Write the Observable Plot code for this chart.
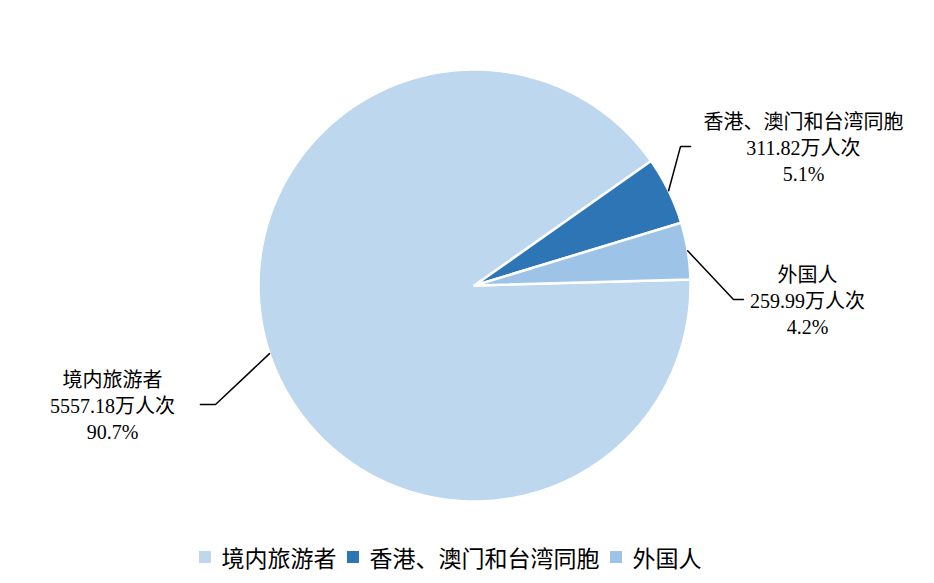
<!DOCTYPE html>
<html>
<head>
<meta charset="utf-8">
<script src="https://cdn.jsdelivr.net/npm/d3@7"></script>
<script src="https://cdn.jsdelivr.net/npm/@observablehq/plot@0.6"></script>
<style>
  html, body { margin: 0; padding: 0; background: #fff; }
  #chart { width: 934px; }
  #legend { display: flex; justify-content: center; width: 906px; padding-left: 2px; padding-right: 26px; }
  #legend, #legend * { font-family: "Liberation Serif", "Times New Roman", "Noto Sans CJK SC", serif !important; }
  #legend span { margin-right: 10px !important; }
  #legend span svg { margin-right: 11px !important; }
  #chart text { font-family: "Liberation Serif", "Times New Roman", "Noto Sans CJK SC", serif; }
</style>
</head>
<body>
<div id="chart"></div>
<div id="legend"></div>
<script>
// ---- data ----
const categories = ["境内旅游者", "香港、澳门和台湾同胞", "外国人"];
const visitors = [5557.18, 311.82, 259.99]; // 万人次
const shares = ["90.7%", "5.1%", "4.2%"];
const colors = ["#BDD7EE", "#2E75B6", "#9DC3E6"];

// ---- layout (radius units, pie radius = 1) ----
const W = 934, H = 540, R = 216, CX = 474, CY = 285;
const startDeg = 88.4;
// leader elbow / end points and label centres, in radius units
const leaderLayout = [
  {elbow: [-1.199, -0.551], end: [-1.269, -0.551], label: [-1.676, -0.551]},
  {elbow: [0.954, 0.644], end: [1.0, 0.644], label: [1.523, 0.644]},
  {elbow: [1.199, -0.065], end: [1.245, -0.065], label: [1.542, -0.065]}
];

const font = "Liberation Serif, Times New Roman, Noto Sans CJK SC, serif";

const data = categories.map((name, i) => ({name, value: visitors[i], share: shares[i]}));
const arcs = d3.pie().value(d => d.value).sort(null)
  .startAngle(startDeg * Math.PI / 180)
  .endAngle(startDeg * Math.PI / 180 + 2 * Math.PI)(data);

// polygon outline of each slice (compass angles: 0 = up, clockwise)
const pt = (a, r) => [r * Math.sin(a), r * Math.cos(a)];
const slicePts = [];
arcs.forEach(a => {
  slicePts.push({name: a.data.name, x: 0, y: 0});
  const n = Math.max(2, Math.ceil((a.endAngle - a.startAngle) / (Math.PI / 360)));
  for (let k = 0; k <= n; k++) {
    const ang = a.startAngle + (a.endAngle - a.startAngle) * k / n;
    const [x, y] = pt(ang, 1);
    slicePts.push({name: a.data.name, x, y});
  }
  slicePts.push({name: a.data.name, x: 0, y: 0});
});

const leaderPts = [];
const labels = [];
arcs.forEach((a, i) => {
  const mid = (a.startAngle + a.endAngle) / 2;
  const [sx, sy] = pt(mid, 1);
  const L = leaderLayout[i];
  leaderPts.push({name: a.data.name, x: sx, y: sy});
  leaderPts.push({name: a.data.name, x: L.elbow[0], y: L.elbow[1]});
  leaderPts.push({name: a.data.name, x: L.end[0], y: L.end[1]});
  labels.push({x: L.label[0], y: L.label[1],
    text: `${a.data.name}\n${a.data.value.toFixed(2)}万人次\n${a.data.share}`});
});

const chart = Plot.plot({
  width: W, height: H,
  margin: 0,
  x: {domain: [-CX / R, (W - CX) / R], range: [0, W], axis: null},
  y: {domain: [-(H - CY) / R, CY / R], range: [H, 0], axis: null},
  color: {domain: categories, range: colors},
  style: {fontFamily: font, background: "#fff"},
  marks: [
    Plot.line(slicePts, {x: "x", y: "y", z: "name", fill: "name", stroke: "#fff", strokeWidth: 2.5, strokeLinejoin: "round"}),
    Plot.line(leaderPts, {x: "x", y: "y", z: "name", stroke: "#000", strokeWidth: 1.5}),
    Plot.text(labels, {x: "x", y: "y", text: "text", fontSize: 20, fontFamily: font, lineHeight: 1.3, fill: "#000", textAnchor: "middle"})
  ]
});
document.getElementById("chart").appendChild(chart);

const legend = Plot.legend({
  color: {domain: categories, range: colors},
  legend: "swatches",
  swatchSize: 12,
  style: {fontSize: "23px", fontFamily: font, color: "#000"}
});
document.getElementById("legend").appendChild(legend);
</script>
</body>
</html>
